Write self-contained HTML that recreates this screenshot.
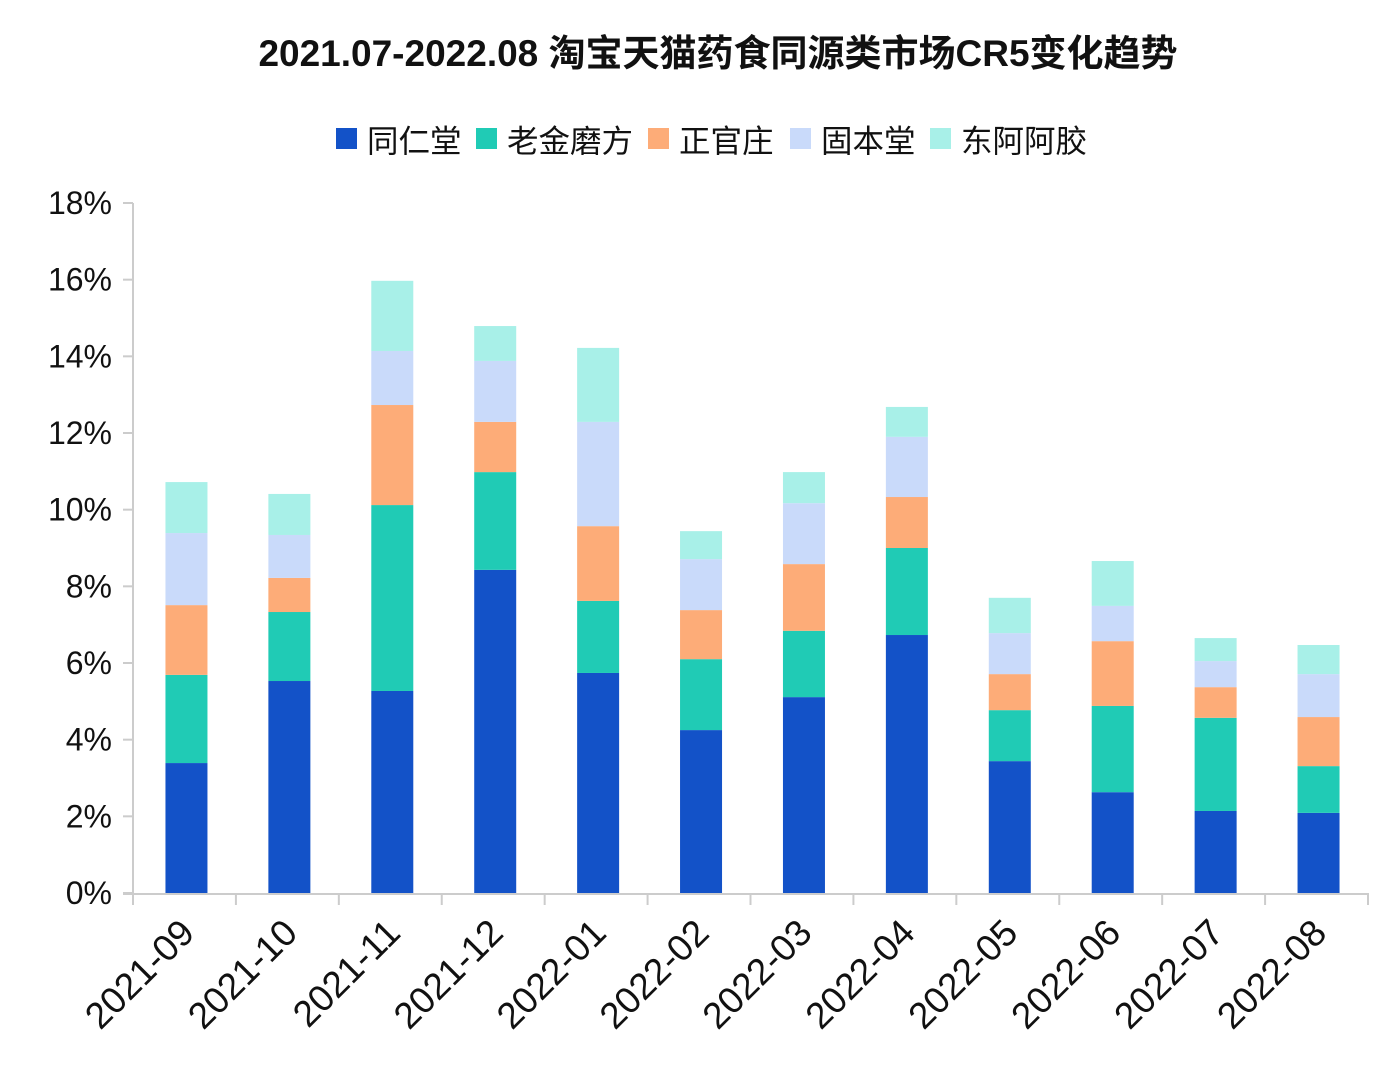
<!DOCTYPE html>
<html><head><meta charset="utf-8"><style>
body{margin:0;background:#fff;}
svg text{font-family:"Liberation Sans","Noto Sans CJK SC",sans-serif;}
</style></head><body>
<svg id="c" width="1399" height="1082" xmlns="http://www.w3.org/2000/svg">
<text x="718" y="66" text-anchor="middle" font-size="37" font-weight="bold" fill="#111">2021.07-2022.08 淘宝天猫药食同源类市场CR5变化趋势</text>
<g id="legend"></g>
<g id="axes"></g>
<g id="bars"></g>
</svg>
<script>
const categories=["2021-09","2021-10","2021-11","2021-12","2022-01","2022-02","2022-03","2022-04","2022-05","2022-06","2022-07","2022-08"];
const seriesNames=["同仁堂","老金磨方","正官庄","固本堂","东阿阿胶"];
const tongrentang=[3.39,5.53,5.27,8.43,5.74,4.25,5.11,6.73,3.44,2.63,2.14,2.09];
const laojinmofang=[2.30,1.80,4.85,2.55,1.88,1.85,1.73,2.27,1.33,2.25,2.43,1.22];
const zhengguanzhuang=[1.82,0.89,2.61,1.31,1.95,1.28,1.74,1.33,0.94,1.69,0.80,1.28];
const gubentang=[1.88,1.12,1.41,1.59,2.72,1.33,1.59,1.57,1.07,0.92,0.68,1.12];
const dongeejiao=[1.33,1.07,1.83,0.91,1.93,0.73,0.81,0.78,0.92,1.17,0.60,0.76];
const yTicks=[0,2,4,6,8,10,12,14,16,18];
const colors=["#1352C8","#20CBB5","#FDAC78","#C9DAFA","#A8F0E8"];
const series=[tongrentang,laojinmofang,zhengguanzhuang,gubentang,dongeejiao];
const NS="http://www.w3.org/2000/svg";
const x0=133,x1=1368,y0=893,yTop=203,yMax=18;
const step=(x1-x0)/categories.length, bw=42;
const y=v=>y0-(v/yMax)*(y0-yTop);
const xc=i=>x0+step*(i+0.5)+2;
function mk(t,a,p){const e=document.createElementNS(NS,t);for(const k in a)e.setAttribute(k,a[k]);p.appendChild(e);return e;}
const ax=document.getElementById('axes');
let l=mk('line',{x1:x0,y1:yTop,x2:x0,y2:y0+1,stroke:'#ccc','stroke-width':2},ax);


l=mk('line',{x1:x0-10,y1:y0+1,x2:x1,y2:y0+1,stroke:'#ccc','stroke-width':2},ax);


yTicks.forEach(v=>{
 const tk=mk('line',{x1:x0-10,x2:x0,y1:y(v),y2:y(v),stroke:'#ccc','stroke-width':2},ax);
 
 
 const t=mk('text',{x:112,y:y(v)+11,'text-anchor':'end','font-size':32,fill:'#111'},ax);
 t.textContent=v+'%';
 
 
});
for(let i=0;i<=categories.length;i++){
 const tk=mk('line',{x1:x0+step*i,x2:x0+step*i,y1:y0,y2:y0+12,stroke:'#ccc','stroke-width':2},ax);
 
 
}
categories.forEach((c,i)=>{
 const cx=xc(i)+10, cy=935;
 const t=mk('text',{x:cx,y:cy,'text-anchor':'end','font-size':37,fill:'#111',transform:`rotate(-45 ${cx} ${cy})`},ax);
 t.textContent=c;
 
 
});
const bg=document.getElementById('bars');
categories.forEach((c,i)=>{
 let acc=0;
 series.forEach((s,k)=>{
  const v=s[i];
  const r=mk('rect',{x:xc(i)-bw/2,y:y(acc+v),width:bw,height:y(acc)-y(acc+v),fill:colors[k]},bg);
  
  
  acc+=v;
 });
});
const lg=document.getElementById('legend');
const lx=[336,476,648,790,930];
seriesNames.forEach((n,k)=>{
 const r=mk('rect',{x:lx[k],y:128,width:21,height:21,fill:colors[k]},lg);
 
 
 const t=mk('text',{x:lx[k]+31,y:152,'font-size':31.5,fill:'#111'},lg);
 t.textContent=n;
 
 
});
</script>
</body></html>
